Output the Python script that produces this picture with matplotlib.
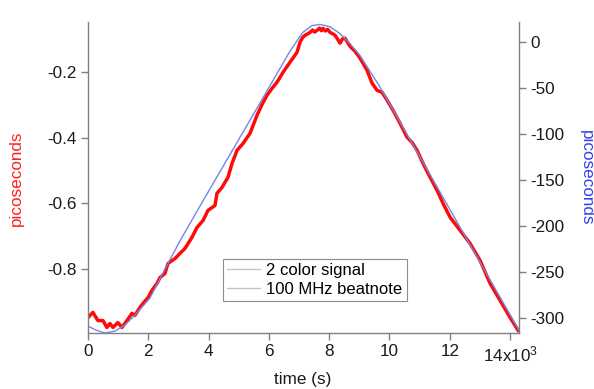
import matplotlib
matplotlib.use("Agg")
import matplotlib.pyplot as plt
from matplotlib.lines import Line2D

plt.rcParams['font.family'] = ['Liberation Sans', 'DejaVu Sans']
plt.rcParams['mathtext.fontset'] = 'custom'
plt.rcParams['mathtext.rm'] = 'Liberation Sans'
plt.rcParams['mathtext.default'] = 'regular'

# 2 color signal (left axis, ps)
t_2color = [0, 166, 332, 498, 630, 730, 830, 995, 1128, 1294, 1460, 1559, 1725,
            1825, 1991, 2123, 2289, 2389, 2555, 2654, 2787, 2887, 3053, 3219,
            3451, 3617, 3816, 3982, 4214, 4280, 4446, 4645, 4778, 4944, 5143,
            5375, 5607, 5773, 5939, 6105, 6271, 6470, 6702, 6934, 7034, 7120,
            7200, 7280, 7366, 7450, 7520, 7598, 7680, 7740, 7797, 7870, 7950,
            8029, 8110, 8195, 8280, 8361, 8440, 8527, 8693, 8859, 9025, 9257,
            9423, 9589, 9755, 9921, 10120, 10352, 10584, 10750, 10916, 11115,
            11347, 11579, 11778, 12011, 12342, 12674, 13006, 13338, 13670,
            14001, 14267]
ps_2color = [-0.949, -0.933, -0.958, -0.958, -0.979, -0.967, -0.979, -0.964,
             -0.979, -0.958, -0.936, -0.942, -0.918, -0.906, -0.888, -0.866,
             -0.845, -0.827, -0.814, -0.784, -0.775, -0.769, -0.753, -0.738,
             -0.704, -0.674, -0.653, -0.622, -0.607, -0.570, -0.552, -0.521,
             -0.479, -0.439, -0.418, -0.387, -0.332, -0.299, -0.271, -0.250,
             -0.231, -0.201, -0.170, -0.140, -0.109, -0.095, -0.088, -0.084,
             -0.079, -0.072, -0.078, -0.073, -0.066, -0.074, -0.067, -0.075,
             -0.070, -0.079, -0.083, -0.088, -0.100, -0.112, -0.099, -0.097,
             -0.122, -0.137, -0.158, -0.195, -0.234, -0.256, -0.262, -0.286,
             -0.317, -0.357, -0.399, -0.415, -0.439, -0.479, -0.521, -0.561,
             -0.601, -0.643, -0.683, -0.723, -0.775, -0.845, -0.897, -0.949,
             -0.988]

# 100 MHz beatnote (right axis, ps)
t_beat = [0, 265, 564, 896, 1227, 1559, 2056, 2554, 3051, 3715, 4544, 5373,
          6202, 6700, 7131, 7430, 7695, 8027, 8358, 8690, 9022, 9685, 11012,
          12338, 13665, 14295]
ps_beat = [-308.4, -312.7, -316.0, -313.8, -307.3, -296.5, -278.0, -246.5,
           -216.1, -178.2, -131.6, -85.0, -38.3, -10.1, 10.5, 17.6, 19.0,
           16.5, 9.0, -1.8, -14.8, -49.0, -125.0, -201.0, -277.0, -313.0]

x_ticks = [0, 2000, 4000, 6000, 8000, 10000, 12000, 14000]
x_ticklabels = ['0', '2', '4', '6', '8', '10', '12', '14x10$^{3}$']
left_ticks = [-0.8, -0.6, -0.4, -0.2]
right_ticks = [-300, -250, -200, -150, -100, -50, 0]

axis_grey = '#808080'
fs = 12.3

fig = plt.figure(figsize=(5.94, 3.89), dpi=100)
ax = fig.add_axes([0.148, 0.143, 0.726, 0.8])
ax2 = ax.twinx()

ax.plot(t_2color, ps_2color, color='#ff0a0a', lw=2.5)
ax2.plot(t_beat, ps_beat, color='#7088e6', lw=1.0)

ax.set_xlim(0, 14300)
ax.set_ylim(-0.997, -0.048)
ax2.set_ylim(-316.3, 21.4)

ax.set_xticks(x_ticks)
ax.set_xticklabels(x_ticklabels)
ax.set_yticks(left_ticks)
ax.set_yticklabels(['%.1f' % v for v in left_ticks])
ax2.set_yticks(right_ticks)
ax2.set_yticklabels([str(v) for v in right_ticks])

for a in (ax, ax2):
    a.spines['top'].set_visible(False)
    for s in a.spines.values():
        s.set_color(axis_grey)
        s.set_linewidth(1.0)
    a.tick_params(direction='out', length=5, width=1, color=axis_grey,
                  labelsize=fs, labelcolor='#1a1a1a', pad=3)
ax.spines['right'].set_visible(False)
ax2.spines['left'].set_visible(False)
ax2.spines['bottom'].set_visible(False)

ax.set_xlabel('time (s)', fontsize=fs, color='#1a1a1a', va='center')
ax.xaxis.set_label_coords(0.499, -0.148)
ax.set_ylabel('picoseconds', fontsize=fs, color='#ff2020', va='center')
ax.yaxis.set_label_coords(-0.165, 0.5)
ax2.set_ylabel('picoseconds', fontsize=fs, color='#3340ee', rotation=270,
               va='center')
ax2.yaxis.set_label_coords(1.155, 0.5)

handles = [Line2D([], [], color='#c4c4c4', lw=1.0),
           Line2D([], [], color='#c4c4c4', lw=1.0)]
leg = ax2.legend(handles, ['2 color signal', '100 MHz beatnote'],
                 loc='lower left', bbox_to_anchor=(0.313, 0.104),
                 borderaxespad=0, fontsize=12, frameon=True, fancybox=False,
                 handlelength=2.0, handletextpad=0.35, borderpad=0.25,
                 labelspacing=0.22)
leg.get_frame().set_edgecolor('#707070')
leg.get_frame().set_linewidth(0.8)

fig.savefig('out.png', dpi=100)
